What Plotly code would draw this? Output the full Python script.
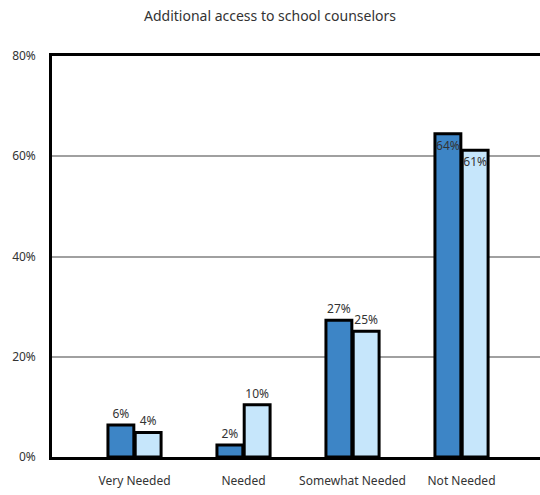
import plotly.graph_objects as go

categories = ["Very Needed", "Needed", "Somewhat Needed", "Not Needed"]
series_a = [6.4, 2.4, 27.3, 64.5]
series_b = [4.9, 10.4, 25.1, 61.2]
labels_a = ["6%", "2%", "27%", "64%"]
labels_b = ["4%", "10%", "25%", "61%"]
y_ticks = [0, 20, 40, 60, 80]
y_tick_text = ["0%", "20%", "40%", "60%", "80%"]

FONT = "Noto Sans"
TXT = "#333333"

def positions(vals):
    return ["inside" if v > 50 else "outside" for v in vals]

fig = go.Figure()
fig.add_trace(go.Bar(
    x=categories, y=series_a, text=labels_a, textposition=positions(series_a),
    insidetextanchor="end", textangle=0,
    marker=dict(color="#3d85c6", line=dict(color="black", width=3)),
    textfont=dict(family=FONT, size=12, color=TXT), constraintext="none", cliponaxis=False,
    showlegend=False,
))
fig.add_trace(go.Bar(
    x=categories, y=series_b, text=labels_b, textposition=positions(series_b),
    insidetextanchor="end", textangle=0,
    marker=dict(color="#c6e6fb", line=dict(color="black", width=3)),
    textfont=dict(family=FONT, size=12, color=TXT), constraintext="none", cliponaxis=False,
    showlegend=False,
))

fig.update_layout(
    width=540, height=495,
    margin=dict(l=52, r=0, t=56, b=38),
    paper_bgcolor="white", plot_bgcolor="white",
    barmode="group", bargap=0.5, bargroupgap=0.05,
    font=dict(family=FONT, size=12, color=TXT),
    title=dict(text="Additional access to school counselors", x=0.5, xanchor="center",
               y=0.968, yanchor="middle", font=dict(family=FONT, size=14, color=TXT)),
    xaxis=dict(range=[-0.757, 3.72], showline=True, linecolor="black", linewidth=2.5,
               mirror=True, showgrid=False, ticks="outside", ticklen=11, tickcolor="rgba(0,0,0,0)",
               tickfont=dict(family=FONT, size=12, color=TXT)),
    yaxis=dict(range=[0, 80], tickvals=y_ticks, ticktext=y_tick_text, showline=True,
               linecolor="black", linewidth=2.5, showgrid=True, gridcolor="#a0a0a0", gridwidth=2,
               zeroline=False, ticks="outside", ticklen=11, tickcolor="rgba(0,0,0,0)",
               tickfont=dict(family=FONT, size=12, color=TXT)),
)

fig.write_html("out.html", config={"displayModeBar": False},
               post_script="document.body.style.margin='0';document.body.style.overflow='hidden';")
